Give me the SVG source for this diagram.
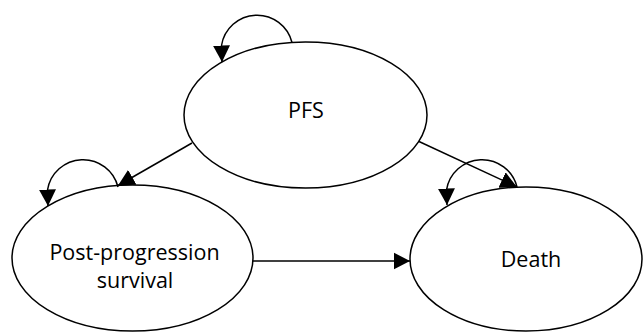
<svg xmlns="http://www.w3.org/2000/svg" width="643" height="332" viewBox="0 0 643 332">
<style>
.edge{fill:none;stroke:#000;stroke-width:1.5;marker-end:url(#ah)}
.node ellipse{fill:#fff;stroke:#000;stroke-width:1.5}
.node text{font-family:"Open Sans","Noto Sans",sans-serif;font-size:21.5px;fill:#000;text-anchor:middle}
</style>
<defs>
<marker id="ah" markerUnits="userSpaceOnUse" markerWidth="18" markerHeight="18" refX="16.5" refY="9" orient="auto">
<path d="M0,0.5 L16.5,9 L0,17.5 z" fill="#000"/>
</marker>
</defs>
<rect width="643" height="332" fill="#fff"/>
<g id="nodes">
<g id="pfs" class="node">
<ellipse cx="305.5" cy="115" rx="121.5" ry="73"/>
<text x="306" y="117.5">PFS</text>
</g>
<g id="pps" class="node">
<ellipse cx="132.5" cy="258" rx="120.5" ry="73"/>
<text x="134.5" y="260">Post-progression</text>
<text x="135" y="288">survival</text>
</g>
<g id="death" class="node">
<ellipse cx="526" cy="259" rx="116" ry="72"/>
<text x="531" y="266.5">Death</text>
</g>
</g>
<g id="connectors">
<path class="edge" d="M192,143 L118,185.5"/>
<path class="edge" d="M419,141.5 L517,187"/>
<path class="edge" d="M253,261 L410,261"/>
<path class="edge" d="M292,42.5 A36,36 0 0,0 221.5,45.5 L222,62"/>
<path class="edge" d="M118,187 A36,36 0 0,0 47.5,190 L48,206"/>
<path class="edge" d="M517,187 A36,36 0 0,0 446.5,190 L447,205"/>
</g>
</svg>
